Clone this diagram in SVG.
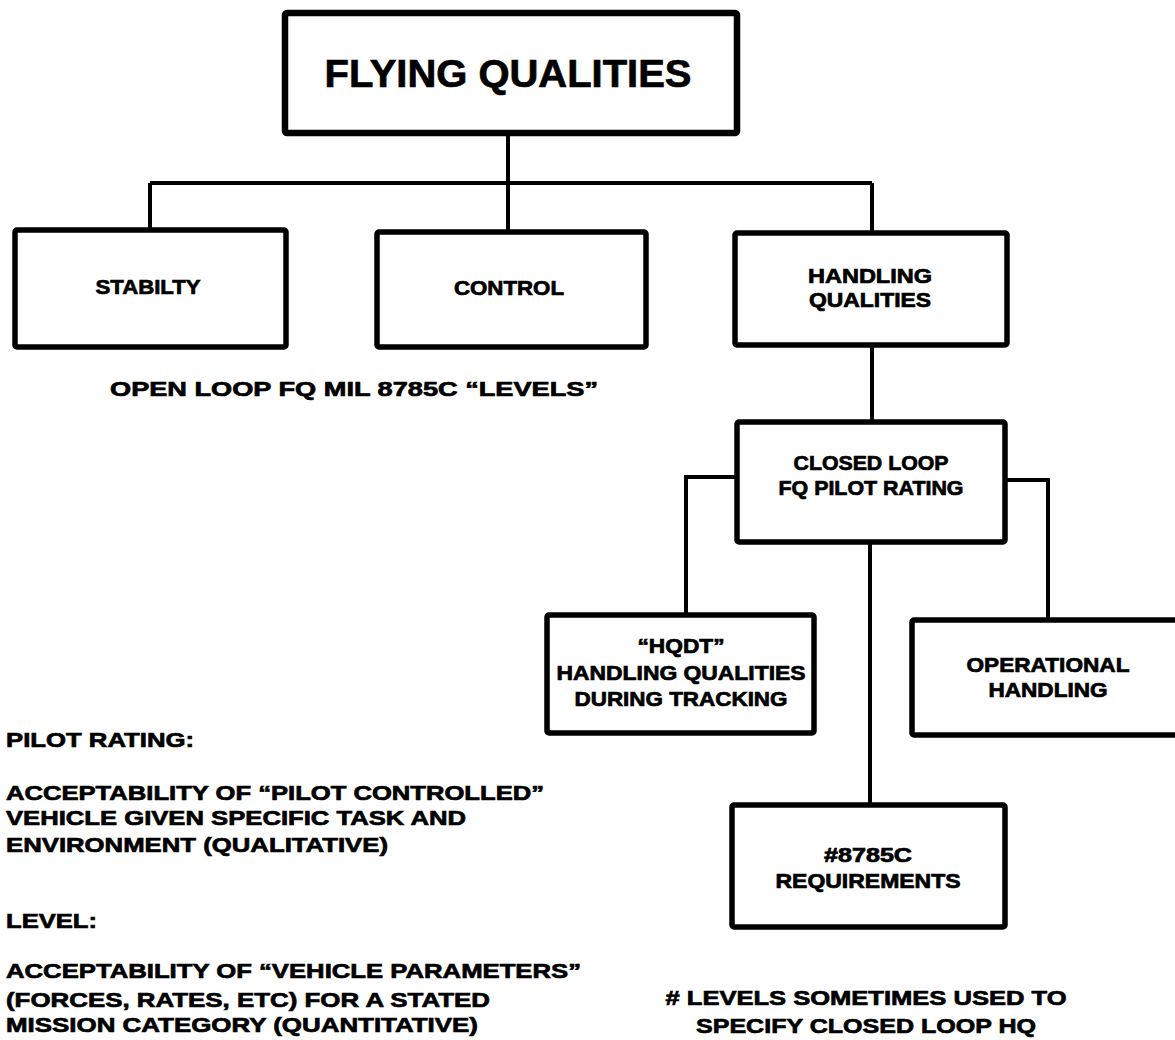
<svg xmlns="http://www.w3.org/2000/svg" width="1175" height="1040" viewBox="0 0 1175 1040">
<style>
.box{fill:#fff;stroke:#000;stroke-width:5.5}
.top{stroke-width:6.5}
.conn{fill:none;stroke:#000;stroke-width:4}
text{font-family:"Liberation Sans",Arial,sans-serif;font-weight:bold;fill:#000;stroke:#000;stroke-width:0.7}
.lbl{font-size:20px;text-anchor:middle}
.note{font-size:21px}
</style>
<rect width="1175" height="1040" fill="#fff"/>
<g id="connectors">
<path class="conn" d="M508,133 V183 M150,183 H872 M150,183 V230 M508,183 V232 M872,183 V233"/>
<path class="conn" d="M872,345 V422"/>
<path class="conn" d="M737,477 H686 V615"/>
<path class="conn" d="M1005,480 H1048 V620"/>
<path class="conn" d="M870,542 V805"/>
</g>
<g id="flying-qualities">
<rect class="box top" x="285" y="13" width="452" height="120" rx="2"/>
<text x="508" y="87" font-size="38" text-anchor="middle" textLength="367" lengthAdjust="spacingAndGlyphs">FLYING QUALITIES</text>
</g>
<g id="stability">
<rect class="box" x="15" y="230" width="271" height="117" rx="2"/>
<text class="lbl" x="148" y="294" textLength="105" lengthAdjust="spacingAndGlyphs">STABILTY</text>
</g>
<g id="control">
<rect class="box" x="377" y="232" width="269" height="115" rx="2"/>
<text class="lbl" x="509" y="295" textLength="110" lengthAdjust="spacingAndGlyphs">CONTROL</text>
</g>
<g id="handling-qualities">
<rect class="box" x="735" y="233" width="272" height="112" rx="2"/>
<text class="lbl" x="870" y="283" textLength="124" lengthAdjust="spacingAndGlyphs">HANDLING</text>
<text class="lbl" x="870" y="307" textLength="122" lengthAdjust="spacingAndGlyphs">QUALITIES</text>
</g>
<g id="open-loop-note">
<text class="note" x="110" y="396" textLength="488" lengthAdjust="spacingAndGlyphs">OPEN LOOP FQ MIL 8785C “LEVELS”</text>
</g>
<g id="closed-loop">
<rect class="box" x="737" y="422" width="268" height="120" rx="2"/>
<text class="lbl" x="871" y="470" textLength="155" lengthAdjust="spacingAndGlyphs">CLOSED LOOP</text>
<text class="lbl" x="871" y="495" textLength="185" lengthAdjust="spacingAndGlyphs">FQ PILOT RATING</text>
</g>
<g id="hqdt">
<rect class="box" x="547" y="615" width="267" height="118" rx="2"/>
<text class="lbl" x="681" y="653" textLength="87" lengthAdjust="spacingAndGlyphs">“HQDT”</text>
<text class="lbl" x="681" y="680" textLength="249" lengthAdjust="spacingAndGlyphs">HANDLING QUALITIES</text>
<text class="lbl" x="681" y="706" textLength="213" lengthAdjust="spacingAndGlyphs">DURING TRACKING</text>
</g>
<g id="operational-handling">
<rect class="box" x="912" y="620" width="272" height="115" rx="2"/>
<text class="lbl" x="1048" y="672" textLength="163" lengthAdjust="spacingAndGlyphs">OPERATIONAL</text>
<text class="lbl" x="1048" y="697" textLength="119" lengthAdjust="spacingAndGlyphs">HANDLING</text>
</g>
<g id="requirements">
<rect class="box" x="732" y="805" width="273" height="122" rx="2"/>
<text class="lbl" x="868" y="862" textLength="88" lengthAdjust="spacingAndGlyphs">#8785C</text>
<text class="lbl" x="868" y="888" textLength="185" lengthAdjust="spacingAndGlyphs">REQUIREMENTS</text>
</g>
<g id="definitions">
<text class="note" x="6" y="747" textLength="188" lengthAdjust="spacingAndGlyphs">PILOT RATING:</text>
<text class="note" x="6" y="800" textLength="538" lengthAdjust="spacingAndGlyphs">ACCEPTABILITY OF “PILOT CONTROLLED”</text>
<text class="note" x="6" y="825" textLength="460" lengthAdjust="spacingAndGlyphs">VEHICLE GIVEN SPECIFIC TASK AND</text>
<text class="note" x="6" y="852" textLength="382" lengthAdjust="spacingAndGlyphs">ENVIRONMENT (QUALITATIVE)</text>
<text class="note" x="6" y="928" textLength="91" lengthAdjust="spacingAndGlyphs">LEVEL:</text>
<text class="note" x="6" y="978" textLength="575" lengthAdjust="spacingAndGlyphs">ACCEPTABILITY OF “VEHICLE PARAMETERS”</text>
<text class="note" x="6" y="1007" textLength="484" lengthAdjust="spacingAndGlyphs">(FORCES, RATES, ETC) FOR A STATED</text>
<text class="note" x="6" y="1032" textLength="472" lengthAdjust="spacingAndGlyphs">MISSION CATEGORY (QUANTITATIVE)</text>
</g>
<g id="footnote">
<text class="note" x="866" y="1005" text-anchor="middle" textLength="401" lengthAdjust="spacingAndGlyphs"># LEVELS SOMETIMES USED TO</text>
<text class="note" x="866" y="1033" text-anchor="middle" textLength="340" lengthAdjust="spacingAndGlyphs">SPECIFY CLOSED LOOP HQ</text>
</g>
</svg>
